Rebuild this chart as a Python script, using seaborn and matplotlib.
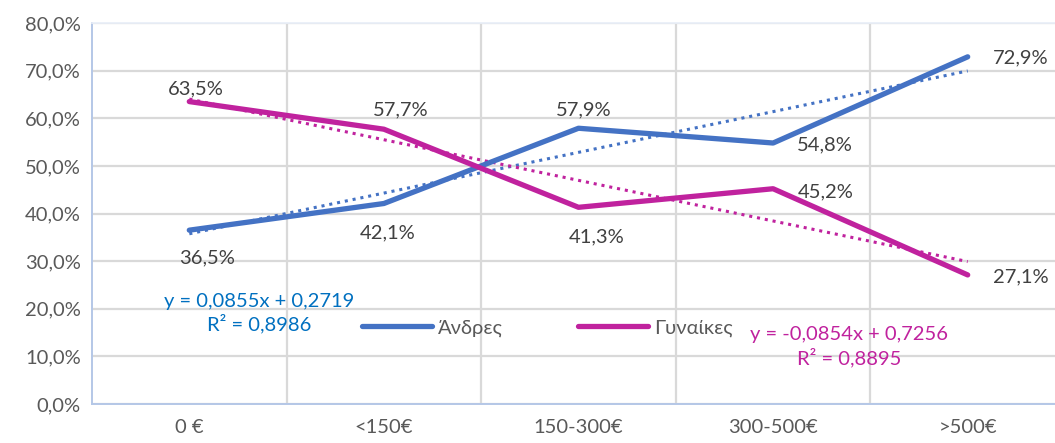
import matplotlib
matplotlib.use('Agg')
import matplotlib.pyplot as plt
import seaborn as sns
import numpy as np
import pandas as pd

# Δεδομένα
kategories = ['0 €', '<150€', '150-300€', '300-500€', '>500€']
andres = [0.365, 0.421, 0.579, 0.548, 0.729]
gynaikes = [0.635, 0.577, 0.413, 0.452, 0.271]
eq_andres = 'y = 0,0855x + 0,2719\nR² = 0,8986'
eq_gynaikes = 'y = -0,0854x + 0,7256\nR² = 0,8895'

sns.set_theme(style='white')
plt.rcParams['font.family'] = ['Lato', 'DejaVu Sans']

c_andres = '#4472C4'
c_gyn = '#C0229E'
fs = 14.5

pos = np.arange(len(kategories))
df = pd.DataFrame({'pos': np.concatenate([pos, pos]),
                   'val': andres + gynaikes,
                   'fylo': ['Άνδρες'] * 5 + ['Γυναίκες'] * 5})

fig = plt.figure(figsize=(10.55, 4.43), dpi=100)
ax = fig.add_axes([92 / 1055, 1 - 404 / 443, 973 / 1055, 381 / 443])

sns.lineplot(data=df, x='pos', y='val', hue='fylo', palette=[c_andres, c_gyn],
             linewidth=3.8, ax=ax, solid_capstyle='round', zorder=3)

# γραμμές τάσης
sns.regplot(x=pos, y=andres, scatter=False, ci=None, ax=ax,
            line_kws=dict(color=c_andres, lw=2.2, ls=(0, (1, 1.6)), zorder=2))
sns.regplot(x=pos, y=gynaikes, scatter=False, ci=None, ax=ax,
            line_kws=dict(color=c_gyn, lw=2.2, ls=(0, (1, 1.6)), zorder=2))

# ετικέτες τιμών
off_andres = [(18, -28), (4, -29), (5, 18), (52, -2), (53, -1)]
off_gyn = [(7, 13), (17, 19), (18, -30), (53, -3), (53, -2)]
for i in range(5):
    ax.annotate(f'{andres[i]*100:.1f}%'.replace('.', ','), (pos[i], andres[i]),
                xytext=off_andres[i], textcoords='offset pixels',
                ha='center', va='center', fontsize=fs, color='#404040')
    ax.annotate(f'{gynaikes[i]*100:.1f}%'.replace('.', ','), (pos[i], gynaikes[i]),
                xytext=off_gyn[i], textcoords='offset pixels',
                ha='center', va='center', fontsize=fs, color='#404040')

ax.text(0.36, 0.191, eq_andres, ha='center', va='center', fontsize=fs,
        color='#0070C0', linespacing=1.25)
ax.text(3.39, 0.12, eq_gynaikes, ha='center', va='center', fontsize=fs,
        color=c_gyn, linespacing=1.25)

ax.set_xlim(-0.5, 4.5)
ax.set_ylim(0, 0.8)
ax.set_xticks(pos)
ax.set_xticklabels(kategories)
ax.set_xticks(pos[:-1] + 0.5, minor=True)
ax.set_yticks(np.arange(0, 0.81, 0.1))
ax.set_yticklabels([f'{v*100:.1f}%'.replace('.', ',') for v in np.arange(0, 0.81, 0.1)])
ax.tick_params(axis='both', which='both', length=0, labelsize=fs, labelcolor='#595959')
ax.tick_params(axis='x', pad=11)
ax.tick_params(axis='y', pad=8)
ax.grid(axis='y', which='major', color='#d9d9d9', lw=1.6)
ax.grid(axis='x', which='minor', color='#d9d9d9', lw=1.6)
ax.set_axisbelow(True)
ax.set_xlabel('')
ax.set_ylabel('')

for s in ['left', 'bottom']:
    ax.spines[s].set_color('#b4c7e7')
    ax.spines[s].set_linewidth(1.4)
ax.spines['top'].set_color('#e9eef7')
ax.spines['right'].set_visible(False)

ax.legend(loc='center', bbox_to_anchor=(0.468, 0.2), ncol=2, frameon=False,
          fontsize=fs, handlelength=3.5, columnspacing=3.7, handletextpad=0.3,
          labelcolor='#595959')

fig.savefig('out.png', dpi=100)
